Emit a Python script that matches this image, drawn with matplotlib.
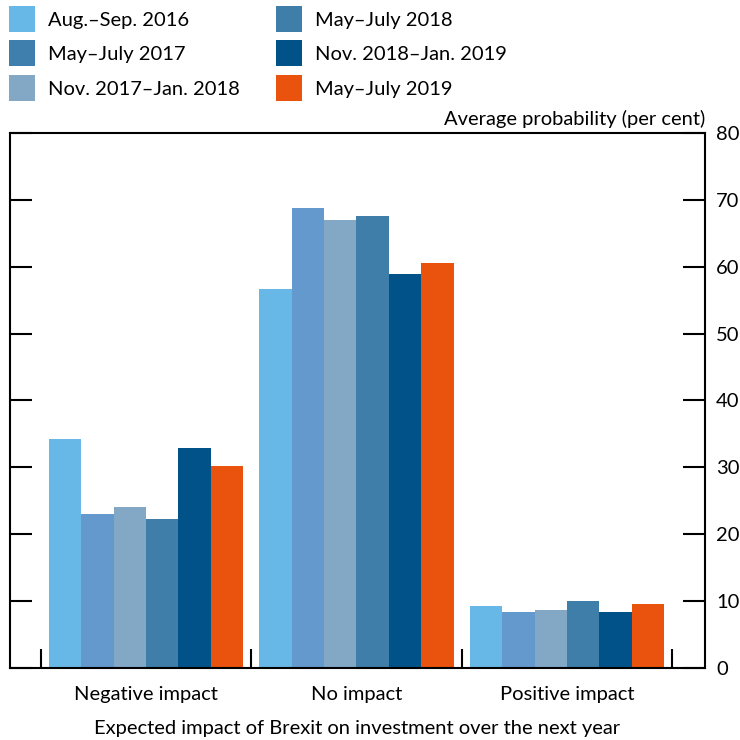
import numpy as np
import matplotlib.pyplot as plt
from matplotlib.patches import Patch

plt.rcParams['font.family'] = ['Lato', 'DejaVu Sans']

# 데이터
categories = ["Negative impact", "No impact", "Positive impact"]
series = ["Aug.\u2013Sep. 2016", "May\u2013July 2017", "Nov. 2017\u2013Jan. 2018",
          "May\u2013July 2018", "Nov. 2018\u2013Jan. 2019", "May\u2013July 2019"]
aug_sep_2016 = [34.2, 56.7, 9.3]
may_jul_2017 = [23.0, 68.8, 8.4]
nov_2017_jan_2018 = [24.1, 67.0, 8.7]
may_jul_2018 = [22.3, 67.6, 10.0]
nov_2018_jan_2019 = [32.9, 58.9, 8.4]
may_jul_2019 = [30.2, 60.5, 9.6]
values = [aug_sep_2016, may_jul_2017, nov_2017_jan_2018,
          may_jul_2018, nov_2018_jan_2019, may_jul_2019]

bar_colors = ["#67B8E6", "#6399CC", "#82A8C6", "#3E7EA9", "#02528A", "#E9530E"]
legend_colors = ["#67B8E6", "#3F7FAE", "#82A8C6", "#3E7EA9", "#02528A", "#E9530E"]

FS = 14.5

fig = plt.figure(figsize=(7.4, 7.4), dpi=100)
ax = fig.add_axes([0.0135, 0.0973, 0.9392, 0.723])

x = np.arange(len(categories))
w = 0.154
for i, vals in enumerate(values):
    ax.bar(x + (i - 2.5) * w, vals, width=w, color=bar_colors[i], edgecolor='none')

ax.set_xlim(-0.646, 2.656)
ax.set_ylim(0, 80)

# y축: 오른쪽 라벨, 양쪽 안쪽 눈금
ax.yaxis.tick_right()
ax.set_yticks(range(0, 81, 10))
ax.tick_params(axis='y', which='major', direction='in', length=16, width=1.5,
               left=True, right=True, labelsize=FS, pad=8)

# x축: 카테고리 라벨, 그룹 경계에 작은 눈금
ax.set_xticks(x)
ax.set_xticklabels(categories, fontsize=FS)
ax.tick_params(axis='x', which='major', length=0, pad=13)
ax.set_xticks([-0.5, 0.5, 1.5, 2.5], minor=True)
ax.tick_params(axis='x', which='minor', direction='in', length=14, width=1.5)

for s in ax.spines.values():
    s.set_linewidth(1.5)

ax.set_xlabel("Expected impact of Brexit on investment over the next year",
              fontsize=FS, labelpad=12)
fig.text(0.9527, 0.827, "Average probability (per cent)", ha='right', va='bottom',
         fontsize=FS)

handles = [Patch(facecolor=c, edgecolor='none') for c in legend_colors]
fig.legend(handles, series, loc='upper left', bbox_to_anchor=(9 / 740, 1 - 6 / 740),
           ncol=2, frameon=False, fontsize=FS, handlelength=1.29, handleheight=1.61,
           handletextpad=0.65, labelspacing=0.42, columnspacing=1.8,
           borderaxespad=0, borderpad=0)

fig.savefig("out.png", dpi=100)
